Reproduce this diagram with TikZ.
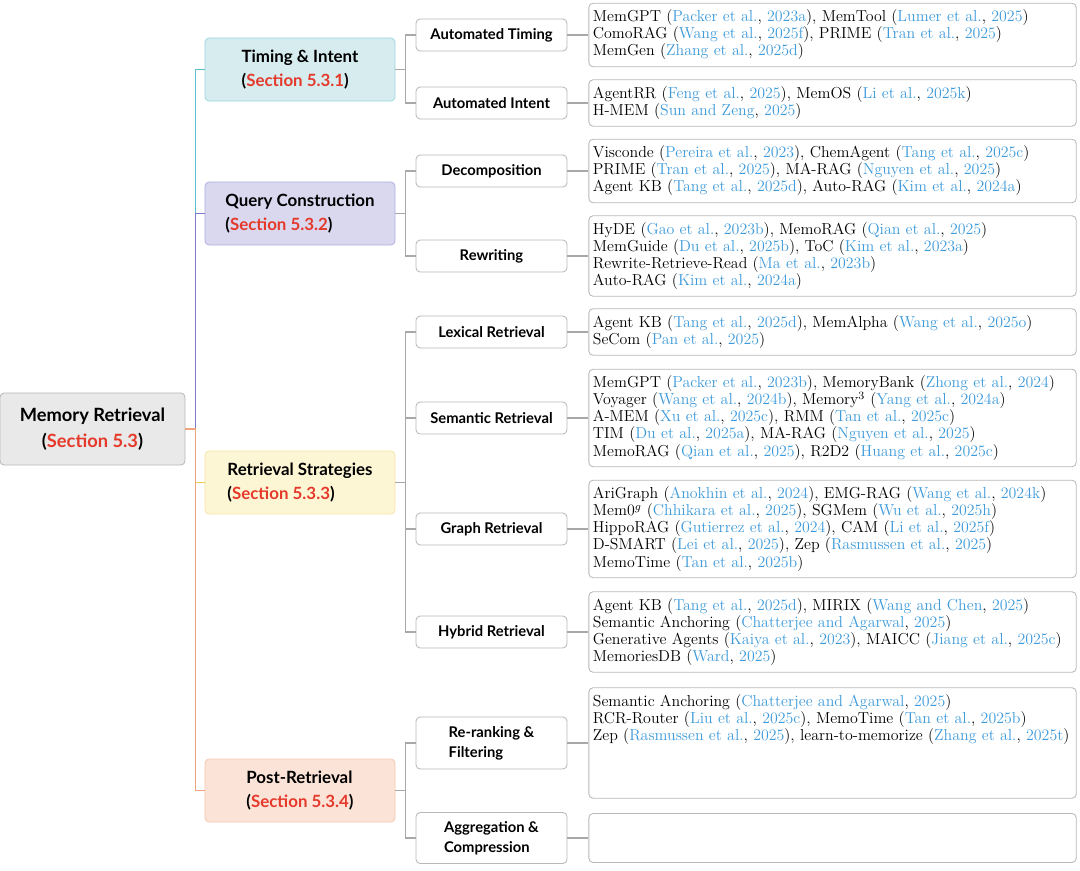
\documentclass[tikz,border=0pt]{standalone}
\usepackage{fontspec}
\usepackage{xcolor}
\usetikzlibrary{positioning}
\newfontfamily\headfont{Lato}
\definecolor{citeblue}{HTML}{3E9BDB}
\definecolor{secred}{HTML}{E5392B}
\definecolor{linegray}{HTML}{A8A8A8}
\definecolor{boxgray}{HTML}{B8B8B8}
\definecolor{rootfill}{HTML}{E9E9E9}
\definecolor{tealfill}{HTML}{D6ECEE}
\definecolor{tealline}{HTML}{5CBEC8}
\definecolor{purpline}{HTML}{7F79CB}
\definecolor{purpfill}{HTML}{DAD8EF}
\definecolor{yelfill}{HTML}{FDF6D4}
\definecolor{yelline}{HTML}{EFCB50}
\definecolor{peachfill}{HTML}{FBE3D7}
\definecolor{peachline}{HTML}{EFA580}
\newcommand{\mycite}[2]{(\textcolor{citeblue}{#1}, \textcolor{citeblue}{#2})}
\newcommand{\mysec}[1]{(\textcolor{secred}{Section #1})}
\tikzset{
    rootbox/.style={draw=boxgray, fill=rootfill, rounded corners=3pt, line width=0.6pt,
        minimum width=4.625cm, minimum height=1.8cm, align=center,
        font=\headfont\bfseries\fontsize{13}{18}\selectfont},
    catbox/.style={rounded corners=3pt, line width=0.6pt, minimum width=4.75cm,
        minimum height=1.575cm, align=left, font=\headfont\bfseries\fontsize{12}{17}\selectfont},
    subbox/.style={draw=boxgray, fill=white, rounded corners=3pt, line width=0.6pt,
        minimum width=3.775cm, minimum height=0.8cm, align=left,
        font=\headfont\bfseries\fontsize{10.5}{14}\selectfont},
    leafbox/.style={draw=boxgray, fill=white, rounded corners=3pt, line width=0.6pt,
        text width=11.98cm, inner xsep=0.1cm, inner ysep=0.17cm, align=left,
        font=\fontsize{11.3}{12.1}\selectfont, anchor=west},
    gline/.style={linegray, line width=0.8pt}
}
\begin{document}
\begin{tikzpicture}[x=0.025cm, y=-0.025cm]
    \useasboundingbox (0,0) rectangle (1080,870);
    \node[rootbox] (mem) at (92.5,429) {Memory Retrieval\\\mysec{5.3}};
    \node[catbox, draw=tealline!60, fill=tealfill] (timing) at (300,69.5) {Timing \& Intent\\\mysec{5.3.1}};
    \node[catbox, draw=purpline!60, fill=purpfill] (query) at (300,213.5) {Query Construction\\\mysec{5.3.2}};
    \node[catbox, draw=yelline!50, fill=yelfill] (strat) at (300,482.5) {Retrieval Strategies\\\mysec{5.3.3}};
    \node[catbox, draw=peachline!60, fill=peachfill] (post) at (300,790.5) {Post-Retrieval\\\mysec{5.3.4}};
    \foreach \c/\col in {timing/tealline, query/purpline, strat/yelline, post/peachline} {
        \draw[\col, line width=1.1pt] (mem.east) -- ++(10,0) |- (\c.west);
    }
    \foreach \i/\y/\lab in {1/35/{Automated Timing}, 2/103/{Automated Intent}, 3/171/{Decomposition},
        4/256/{Rewriting}, 5/332/{Lexical Retrieval}, 6/418/{Semantic Retrieval},
        7/529/{Graph Retrieval}, 8/632/{Hybrid Retrieval}} {
        \node[subbox] (s\i) at (491.5,\y) {\lab};
    }
    \node[subbox, minimum height=1.3cm] (s9) at (491.5,743) {Re-ranking \&\\Filtering};
    \node[subbox, minimum height=1.275cm] (s10) at (491.5,838) {Aggregation \&\\Compression};
    \foreach \c/\s in {timing/1, timing/2, query/3, query/4, strat/5, strat/6, strat/7, strat/8, post/9, post/10} {
        \draw[gline] (\c.east) -- ++(10,0) |- (s\s.west);
    }
    \node[leafbox, right=0.525cm of s1] (l1) {MemGPT \mycite{Packer et al.}{2023a}, MemTool \mycite{Lumer et al.}{2025}\\
        ComoRAG \mycite{Wang et al.}{2025f}, PRIME \mycite{Tran et al.}{2025}\\
        MemGen \mycite{Zhang et al.}{2025d}};
    \node[leafbox, right=0.525cm of s2] (l2) {AgentRR \mycite{Feng et al.}{2025}, MemOS \mycite{Li et al.}{2025k}\\
        H-MEM \mycite{Sun and Zeng}{2025}};
    \node[leafbox, right=0.525cm of s3] (l3) {Visconde \mycite{Pereira et al.}{2023}, ChemAgent \mycite{Tang et al.}{2025c}\\
        PRIME \mycite{Tran et al.}{2025}, MA-RAG \mycite{Nguyen et al.}{2025}\\
        Agent KB \mycite{Tang et al.}{2025d}, Auto-RAG \mycite{Kim et al.}{2024a}};
    \node[leafbox, right=0.525cm of s4] (l4) {HyDE \mycite{Gao et al.}{2023b}, MemoRAG \mycite{Qian et al.}{2025}\\
        MemGuide \mycite{Du et al.}{2025b}, ToC \mycite{Kim et al.}{2023a}\\
        Rewrite-Retrieve-Read \mycite{Ma et al.}{2023b}\\
        Auto-RAG \mycite{Kim et al.}{2024a}};
    \node[leafbox, right=0.525cm of s5] (l5) {Agent KB \mycite{Tang et al.}{2025d}, MemAlpha \mycite{Wang et al.}{2025o}\\
        SeCom \mycite{Pan et al.}{2025}};
    \node[leafbox, right=0.525cm of s6] (l6) {MemGPT \mycite{Packer et al.}{2023b}, MemoryBank \mycite{Zhong et al.}{2024}\\
        Voyager \mycite{Wang et al.}{2024b}, Memory$^3$ \mycite{Yang et al.}{2024a}\\
        A-MEM \mycite{Xu et al.}{2025c}, RMM \mycite{Tan et al.}{2025c}\\
        TIM \mycite{Du et al.}{2025a}, MA-RAG \mycite{Nguyen et al.}{2025}\\
        MemoRAG \mycite{Qian et al.}{2025}, R2D2 \mycite{Huang et al.}{2025c}};
    \node[leafbox, right=0.525cm of s7] (l7) {AriGraph \mycite{Anokhin et al.}{2024}, EMG-RAG \mycite{Wang et al.}{2024k}\\
        Mem0$^g$ \mycite{Chhikara et al.}{2025}, SGMem \mycite{Wu et al.}{2025h}\\
        HippoRAG \mycite{Gutierrez et al.}{2024}, CAM \mycite{Li et al.}{2025f}\\
        D-SMART \mycite{Lei et al.}{2025}, Zep \mycite{Rasmussen et al.}{2025}\\
        MemoTime \mycite{Tan et al.}{2025b}};
    \node[leafbox, right=0.525cm of s8] (l8) {Agent KB \mycite{Tang et al.}{2025d}, MIRIX \mycite{Wang and Chen}{2025}\\
        Semantic Anchoring \mycite{Chatterjee and Agarwal}{2025}\\
        Generative Agents \mycite{Kaiya et al.}{2023}, MAICC \mycite{Jiang et al.}{2025c}\\
        MemoriesDB \mycite{Ward}{2025}};
    \node[leafbox, right=0.525cm of s9] (l9) {Semantic Anchoring \mycite{Chatterjee and Agarwal}{2025}\\
        RCR-Router \mycite{Liu et al.}{2025c}, MemoTime \mycite{Tan et al.}{2025b}\\
        Zep \mycite{Rasmussen et al.}{2025}, learn-to-memorize \mycite{Zhang et al.}{2025t}\\[0.85cm]\mbox{}};
    \node[leafbox, right=0.525cm of s10, minimum height=1.225cm] (l10) {};
    \foreach \i in {1,...,10} {
        \draw[gline] (s\i.east) -- (l\i.west);
    }
\end{tikzpicture}
\end{document}
